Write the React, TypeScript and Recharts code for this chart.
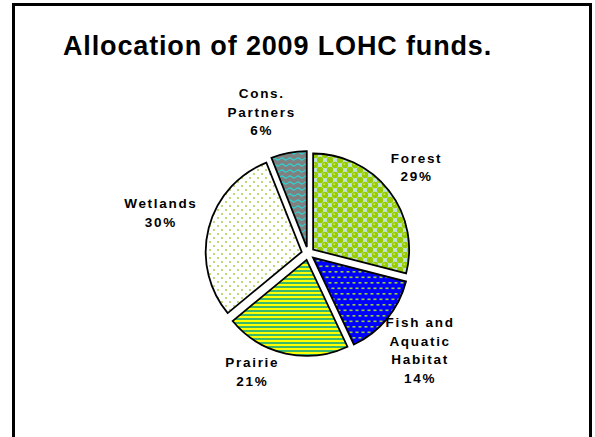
import React from 'react';
import { PieChart, Pie, Cell } from 'recharts';

// slices, clockwise from 12 o'clock
const categories = ['Forest', 'Fish and\nAquatic\nHabitat', 'Prairie', 'Wetlands', 'Cons.\nPartners'];
const shares = [29, 14, 21, 30, 6];
const fills = ['url(#pForest)', 'url(#pFish)', 'url(#pPrairie)', 'url(#pWetlands)', 'url(#pCons)'];

// label placement tweaks (degrees off the slice middle, distance from centre)
const labelAngleNudge = [-2, -1.6, -10.1, 0.3, 6.3];
const labelRadius = [139, 154.5, 133.6, 147.4, 143];

const W = 595;
const H = 437;
const CX = 303;
const CY = 248.5;
const R = 96;
const EXPLODE = 6.5;
const LINE_H = 18.6;
const FONT = '"Liberation Sans", Arial, sans-serif';

const data = categories.map((name, i) => ({ name, value: shares[i] }));
const total = shares.reduce((a, b) => a + b, 0);

const midAngle = (i: number) => {
    const before = shares.slice(0, i).reduce((a, b) => a + b, 0);
    return 90 - (360 * (before + shares[i] / 2)) / total;
};

const RAD = Math.PI / 180;

const makeLabel = (slice: number) => (props: any) => {
    if (props.index !== slice) return null;
    const ang = (midAngle(slice) + labelAngleNudge[slice]) * RAD;
    const lx = CX + labelRadius[slice] * Math.cos(ang);
    const ly = CY - labelRadius[slice] * Math.sin(ang);
    const lines = [...categories[slice].split('\n'), `${Math.round((shares[slice] / total) * 100)}%`];
    const firstBase = ly - ((lines.length - 1) * LINE_H) / 2 + 4.8;
    return (
        <text
            key={`lbl-${slice}`}
            x={lx}
            y={firstBase}
            textAnchor="middle"
            fontFamily={FONT}
            fontWeight="bold"
            fontSize={13.5}
            letterSpacing={1.7}
            fill="#000"
        >
            {lines.map((t, k) => (
                <tspan key={k} x={lx + 0.85} y={firstBase + k * LINE_H}>
                    {t}
                </tspan>
            ))}
        </text>
    );
};

export default function App() {
    return (
        <div style={{ position: 'absolute', left: 0, top: 0, width: W, height: H, overflow: 'hidden', background: '#fff' }}>
            <div
                style={{
                    position: 'absolute',
                    left: 12,
                    top: 3,
                    width: 574,
                    height: 520,
                    border: '3px solid #000',
                }}
            />
            <div style={{ position: 'absolute', left: 0, top: 0 }}>
                <PieChart width={W} height={H}>
                    <defs>
                        <pattern id="pForest" width="10" height="10" patternUnits="userSpaceOnUse">
                            <rect width="10" height="10" fill="#bfe2e6" />
                            <circle cx="0" cy="0" r="3.2" fill="#99cc00" />
                            <circle cx="10" cy="0" r="3.2" fill="#99cc00" />
                            <circle cx="0" cy="10" r="3.2" fill="#99cc00" />
                            <circle cx="10" cy="10" r="3.2" fill="#99cc00" />
                            <circle cx="5" cy="5" r="3.2" fill="#99cc00" />
                            <circle cx="4.2" cy="4.2" r="0.9" fill="#c4e866" />
                        </pattern>
                        <pattern id="pFish" width="6" height="11" patternUnits="userSpaceOnUse">
                            <rect width="6" height="11" fill="#0000ff" />
                            <rect x="1.5" y="1.5" width="3" height="1.6" fill="#99cc33" />
                            <rect x="4.5" y="7" width="3" height="1.6" fill="#99cc33" />
                            <rect x="-1.5" y="7" width="3" height="1.6" fill="#99cc33" />
                        </pattern>
                        <pattern id="pPrairie" width="4" height="4" patternUnits="userSpaceOnUse">
                            <rect width="4" height="4" fill="#ffff00" />
                            <rect y="2" width="4" height="2" fill="#3cb86a" />
                        </pattern>
                        <pattern id="pWetlands" width="8" height="8" patternUnits="userSpaceOnUse">
                            <rect width="8" height="8" fill="#fff" />
                            <circle cx="2" cy="2" r="0.9" fill="#99cc33" />
                            <circle cx="6" cy="6" r="0.9" fill="#99cc33" />
                        </pattern>
                        <pattern id="pCons" width="8" height="6" patternUnits="userSpaceOnUse">
                            <rect width="8" height="6" fill="#808080" />
                            <path d="M0 3 Q2 1 4 3 T8 3" fill="none" stroke="#33cccc" strokeWidth="1.2" />
                        </pattern>
                    </defs>
                    <text x={63} y={55} fontFamily={FONT} fontWeight="bold" fontSize={27} letterSpacing={0.85} fill="#000">
                        Allocation of 2009 LOHC funds.
                    </text>
                    {data.map((_, i) => {
                        const a = midAngle(i) * RAD;
                        return (
                            <Pie
                                key={`slice-${i}`}
                                data={data}
                                dataKey="value"
                                nameKey="name"
                                cx={CX + EXPLODE * Math.cos(a)}
                                cy={CY - EXPLODE * Math.sin(a)}
                                outerRadius={R}
                                startAngle={90}
                                endAngle={-270}
                                isAnimationActive={false}
                                labelLine={false}
                                label={makeLabel(i)}
                            >
                                {data.map((_, j) => (
                                    <Cell
                                        key={`c-${j}`}
                                        fill={j === i ? fills[j] : 'none'}
                                        stroke={j === i ? '#000' : 'none'}
                                        strokeWidth={1.8}
                                    />
                                ))}
                            </Pie>
                        );
                    })}
                </PieChart>
            </div>
        </div>
    );
}
